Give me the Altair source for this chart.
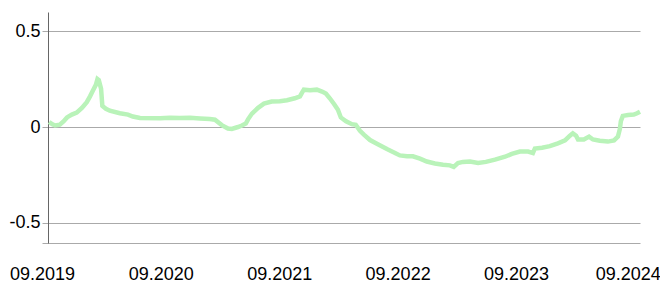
import altair as alt
import pandas as pd

dates = [
    "2019-09-23", "2019-10-02", "2019-10-11", "2019-10-26", "2019-11-07", "2019-11-17",
    "2019-12-02", "2019-12-17", "2020-01-02", "2020-01-17", "2020-01-27", "2020-02-05",
    "2020-02-14", "2020-02-19", "2020-02-23", "2020-03-01", "2020-03-05", "2020-03-16",
    "2020-03-28", "2020-04-28", "2020-05-23", "2020-06-07", "2020-06-29", "2020-08-30",
    "2020-09-29", "2020-10-30", "2020-11-30", "2020-12-31", "2021-01-30", "2021-02-15",
    "2021-03-08", "2021-03-27", "2021-04-08", "2021-04-27", "2021-05-09", "2021-05-21",
    "2021-05-28", "2021-06-09", "2021-06-28", "2021-07-16", "2021-08-09", "2021-09-03",
    "2021-09-25", "2021-10-19", "2021-11-04", "2021-11-10", "2021-11-16", "2021-12-05",
    "2021-12-26", "2022-01-11", "2022-01-23", "2022-02-04", "2022-02-17", "2022-03-01",
    "2022-03-10", "2022-03-26", "2022-04-13", "2022-04-25", "2022-05-08", "2022-05-20",
    "2022-06-08", "2022-07-02", "2022-07-30", "2022-08-24", "2022-09-08", "2022-09-30",
    "2022-10-18", "2022-11-09", "2022-11-30", "2022-12-25", "2023-01-19", "2023-02-09",
    "2023-02-21", "2023-03-06", "2023-03-21", "2023-04-12", "2023-05-07", "2023-05-31",
    "2023-06-28", "2023-07-29", "2023-08-19", "2023-09-13", "2023-10-08", "2023-10-23",
    "2023-10-29", "2023-11-20", "2023-12-14", "2024-01-08", "2024-01-30", "2024-02-14",
    "2024-02-23", "2024-03-04", "2024-03-10", "2024-03-28", "2024-04-13", "2024-04-25",
    "2024-05-16", "2024-06-10", "2024-06-29", "2024-07-11", "2024-07-17", "2024-07-20",
    "2024-07-26", "2024-08-11", "2024-08-29", "2024-09-08", "2024-09-17",
]
values = [
    0.026, 0.015, 0.008, 0.012, 0.030, 0.050,
    0.065, 0.075, 0.100, 0.130, 0.160, 0.190,
    0.220, 0.250, 0.245, 0.200, 0.110, 0.095,
    0.085, 0.072, 0.065, 0.055, 0.047, 0.046,
    0.048, 0.047, 0.048, 0.045, 0.042, 0.038,
    0.010, -0.008, -0.010, 0.000, 0.008, 0.018,
    0.040, 0.070, 0.100, 0.122, 0.133, 0.135,
    0.140, 0.150, 0.160, 0.178, 0.195, 0.192,
    0.195, 0.185, 0.175, 0.150, 0.120, 0.090,
    0.050, 0.030, 0.015, 0.012, -0.020, -0.040,
    -0.068, -0.090, -0.115, -0.135, -0.148, -0.152,
    -0.153, -0.165, -0.180, -0.190, -0.197, -0.200,
    -0.208, -0.188, -0.182, -0.180, -0.188, -0.182,
    -0.170, -0.155, -0.140, -0.128, -0.128, -0.136,
    -0.112, -0.108, -0.100, -0.085, -0.070, -0.045,
    -0.033, -0.045, -0.065, -0.065, -0.050, -0.065,
    -0.072, -0.076, -0.070, -0.050, -0.010, 0.030,
    0.058, 0.063, 0.065, 0.072, 0.080,
]
tick_years = [2019, 2020, 2021, 2022, 2023, 2024]
y_min, y_max = -0.605, 0.6
y_ticks = [y_min, -0.5, 0, 0.5]

df = pd.DataFrame({"date": dates, "value": values})

FONT = "Liberation Sans"

chart = (
    alt.Chart(df)
    .mark_line(color="#b9f3b9", strokeWidth=4.5, interpolate="linear")
    .encode(
        x=alt.X(
            "date:T",
            scale=alt.Scale(
                type="utc",
                domain=[
                    alt.DateTime(year=2019, month=9, date=1, utc=True),
                    alt.DateTime(year=2024, month=9, date=17, utc=True),
                ],
                range=[-6, 592],
            ),
            axis=alt.Axis(
                title=None,
                values=[alt.DateTime(year=y, month=9, date=1, utc=True) for y in tick_years],
                format="%m.%Y",
                grid=False,
                ticks=False,
                domain=False,
                labelPadding=22,
                labelFontSize=18,
                labelFont=FONT,
                labelColor="#000000",
                labelAlign="center",
                labelOverlap=False,
                labelFlush=False,
                labelOffset=alt.condition("year(datum.value) >= 2024", alt.value(-7), alt.value(0)),
            ),
        ),
        y=alt.Y(
            "value:Q",
            scale=alt.Scale(domain=[y_min, y_max], nice=False, zero=False),
            axis=alt.Axis(
                title=None,
                values=y_ticks,
                labelExpr="datum.value < -0.6 ? '' : (datum.value == 0 ? '0' : toString(datum.value))",
                grid=True,
                gridColor="#aaaaaa",
                ticks=False,
                labelPadding=8,
                labelFontSize=18,
                labelFont=FONT,
                labelColor="#000000",
                domainColor="#666666",
            ),
        ),
    )
    .properties(
        width=592,
        height=231,
        autosize=alt.AutoSizeParams(type="none"),
        padding={"left": 40, "top": 4, "right": 20, "bottom": 42},
    )
    .configure_view(stroke=None)
)

chart.save("out.html", embed_options={"renderer": "svg", "actions": False})
